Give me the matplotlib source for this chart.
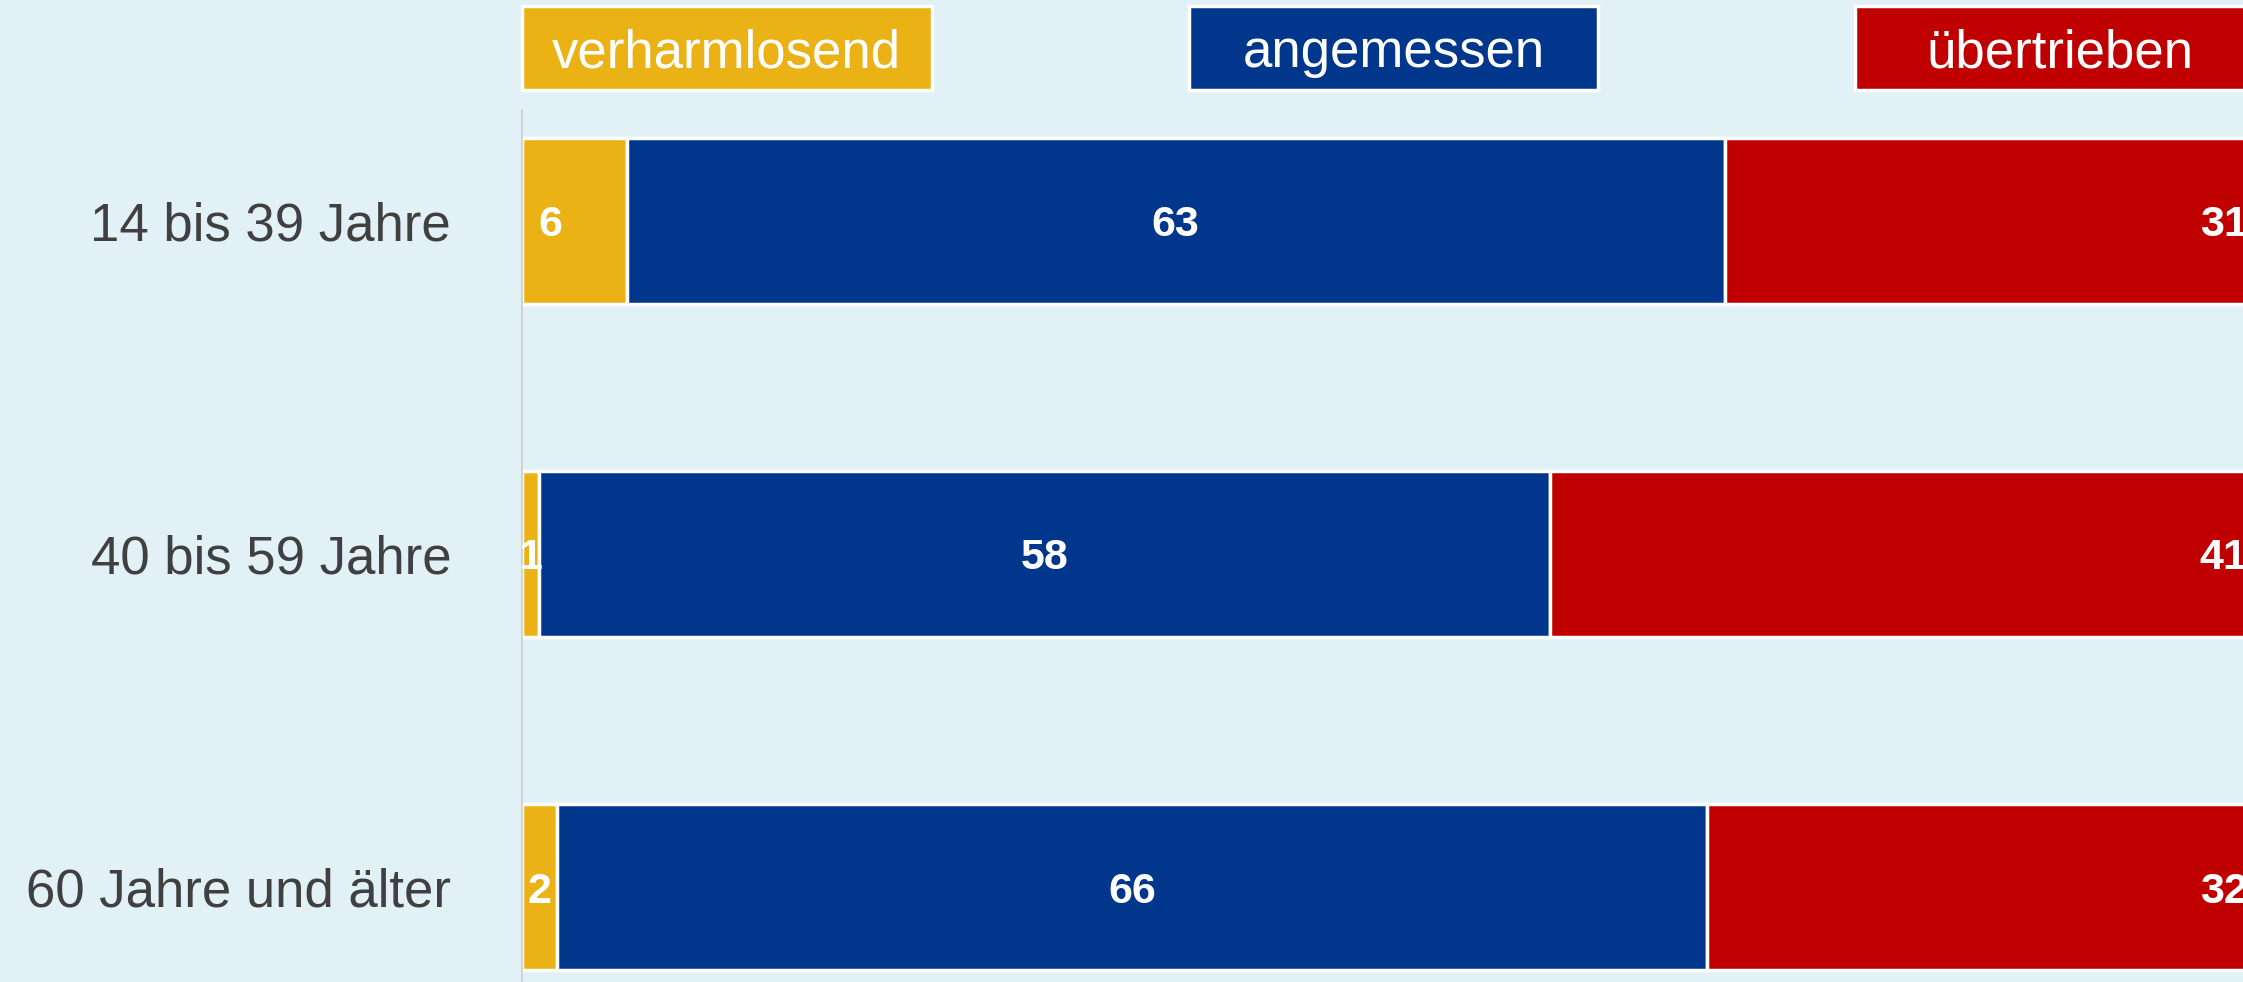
import matplotlib
matplotlib.use("Agg")
import matplotlib.pyplot as plt
from matplotlib.patches import Rectangle
from matplotlib.transforms import blended_transform_factory
import numpy as np

plt.rcParams['font.family'] = ['Liberation Sans', 'DejaVu Sans']

categories = ["14 bis 39 Jahre", "40 bis 59 Jahre", "60 Jahre und älter"]
series_names = ["verharmlosend", "angemessen", "übertrieben"]
verharmlosend = [6, 1, 2]
angemessen = [63, 58, 66]
uebertrieben = [31, 41, 32]

colors = ["#EBB215", "#00368C", "#C00000"]
bg = "#E2F1F5"

W, H = 2243, 982
fig = plt.figure(figsize=(W / 100, H / 100), dpi=100)
fig.patch.set_facecolor(bg)

ax_left = 522 / W
ax_w = 1743 / W
ax_top = 110 / H
ax = fig.add_axes([ax_left, 0, ax_w, 1 - ax_top])
ax.set_facecolor(bg)
ax.patch.set_alpha(0)

y = np.arange(len(categories))
series = [verharmlosend, angemessen, uebertrieben]
left = np.zeros(len(categories))
for vals, col in zip(series, colors):
    vals = np.array(vals, dtype=float)
    ax.barh(y, vals, left=left, height=0.5, color=col, edgecolor="white",
            linewidth=2.5, zorder=2)
    left = left + vals

# value labels
lbl_kw = dict(color="white", fontsize=31, fontweight="bold",
              va="center_baseline", zorder=3, clip_on=False)
for i in y:
    v0 = verharmlosend[i]
    ax.text(min(v0 / 2, 1.6), i, str(v0), ha="center", **lbl_kw)
    v1 = angemessen[i]
    ax.text(v0 + v1 / 2, i, str(v1), ha="center", **lbl_kw)
    v2 = uebertrieben[i]
    ax.text(v0 + v1 + v2 - 1.0, i, str(v2), ha="right", **lbl_kw)

ax.set_xlim(0, 100)
ax.set_ylim(2.285, -0.333)
ax.set_yticks(y)
ax.set_yticklabels(categories, fontsize=38, color="#404040",
                   va="center_baseline")
ax.tick_params(axis="y", length=0, pad=51)
ax.set_xticks([])
for s in ["top", "right", "bottom"]:
    ax.spines[s].set_visible(False)
ax.spines["left"].set_color("#D3D3D3")
ax.spines["left"].set_linewidth(1.5)

# legend boxes across the top
trans = blended_transform_factory(ax.transData, fig.transFigure)
box_w = 23.5
box_starts = [0, 38.25, 76.5]
y0 = 1 - 89.5 / H
y1 = 1 - 6.5 / H
for name, col, xs in zip(series_names, colors, box_starts):
    r = Rectangle((xs, y0), box_w, y1 - y0, transform=trans, facecolor=col,
                  edgecolor="white", linewidth=2.5, clip_on=False, zorder=5)
    fig.add_artist(r)
    fig.text(xs + box_w / 2, (y0 + y1) / 2, name, transform=trans,
             color="white", fontsize=38, ha="center", va="center_baseline",
             zorder=6)

fig.savefig("out.png", dpi=100, facecolor=bg)
